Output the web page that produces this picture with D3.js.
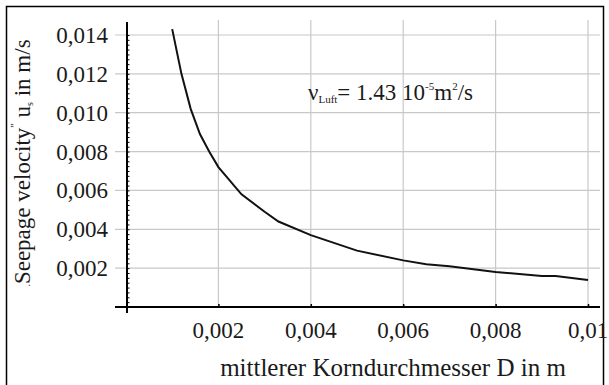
<!DOCTYPE html>
<html><head><meta charset="utf-8">
<script src="https://cdn.jsdelivr.net/npm/d3@7"></script>
<style>body{margin:0;background:#fff}svg{display:block}text{font-family:"Liberation Serif","DejaVu Serif",serif}</style>
</head><body>
<script>
const diameters = [0.001,0.0012,0.0014,0.0016,0.0018,0.002,0.0025,0.003,0.0033,0.004,0.005,0.006,0.0065,0.007,0.008,0.009,0.0093,0.01];
const velocities = [0.0143,0.0120,0.0102,0.0089,0.0080,0.0072,0.0058,0.0049,0.0044,0.0037,0.0029,0.0024,0.0022,0.0021,0.0018,0.0016,0.0016,0.00139];
const xTicks = [0.002,0.004,0.006,0.008,0.01];
const xTickLabels = ["0,002","0,004","0,006","0,008","0,01"];
const yTicks = [0.002,0.004,0.006,0.008,0.010,0.012,0.014];
const yTickLabels = ["0,002","0,004","0,006","0,008","0,010","0,012","0,014"];

const W=609,H=385;
const svg=d3.select("body").append("svg").attr("width",W).attr("height",H);
svg.append("rect").attr("x",6.5).attr("y",6.5).attr("width",597).attr("height",390)
  .attr("fill","none").attr("stroke","#000").attr("stroke-width",1.5);

const x=d3.scaleLinear().domain([0,0.01]).range([126,588]);
const y=d3.scaleLinear().domain([0,0.014]).range([307,35]);

// grid
svg.append("g").selectAll("line").data(yTicks).join("line")
  .attr("x1",115).attr("x2",600).attr("y1",d=>y(d)).attr("y2",d=>y(d))
  .attr("stroke","#c8c8c8").attr("stroke-width",1.2);
svg.append("g").selectAll("line").data(xTicks).join("line")
  .attr("x1",d=>x(d)).attr("x2",d=>x(d)).attr("y1",20).attr("y2",307)
  .attr("stroke","#c8c8c8").attr("stroke-width",1.2);

// y axis
const yAxis=d3.axisRight(y).tickValues(d3.range(0,0.01425,0.00025)).tickSize(2.5).tickFormat("");
const gy=svg.append("g").attr("transform","translate(127,0)").call(yAxis);
gy.select(".domain").remove();
gy.selectAll("line").attr("stroke","#000");
svg.append("line").attr("x1",127).attr("x2",127).attr("y1",22).attr("y2",313).attr("stroke","#000").attr("stroke-width",2);
svg.append("g").selectAll("text").data(yTicks).join("text")
  .attr("x",108).attr("y",d=>y(d)+8).attr("text-anchor","end")
  .attr("font-size",23).attr("fill","#1a1a1a")
  .text((d,i)=>yTickLabels[i]);

// x axis
svg.append("line").attr("x1",115).attr("x2",600).attr("y1",307).attr("y2",307).attr("stroke","#000").attr("stroke-width",2);
const xAxis=d3.axisBottom(x).tickValues(xTicks).tickSize(2).tickFormat("");
const gx=svg.append("g").attr("transform","translate(0,306)").call(xAxis);
gx.select(".domain").remove();
gx.selectAll("line").attr("stroke","#000").attr("stroke-width",1.5).attr("y1",-2).attr("y2",2);
svg.append("g").selectAll("text").data(xTicks).join("text")
  .attr("x",d=>x(d)).attr("y",338).attr("text-anchor","middle")
  .attr("font-size",23).attr("fill","#1a1a1a")
  .text((d,i)=>xTickLabels[i]);

svg.append("text").attr("x",393).attr("y",376).attr("text-anchor","middle")
  .attr("font-size",25).attr("fill","#1a1a1a")
  .text("mittlerer Korndurchmesser D in m");

// y label
const yl=svg.append("text").attr("transform","translate(30,163) rotate(-90)").attr("text-anchor","middle")
  .attr("font-size",23).attr("fill","#1a1a1a");
yl.append("tspan").attr("font-size",10).text(".");
yl.append("tspan").text("Seepage velocity");
yl.append("tspan").attr("font-size",10).attr("dy",-12).text("\u201D");
yl.append("tspan").attr("dy",12).text(" u");
yl.append("tspan").attr("font-size",10).attr("dy",3).text("s");
yl.append("tspan").attr("dy",-3).text("  in m/s");

// curve
const line=d3.line().x((d,i)=>x(diameters[i])).y((d,i)=>y(velocities[i]));
svg.append("path").datum(velocities).attr("d",line).attr("fill","none")
  .attr("stroke","#111").attr("stroke-width",2);

// annotation
const an=svg.append("text").attr("x",308).attr("y",100)
  .attr("font-size",23).attr("fill","#1a1a1a");
an.append("tspan").text("\u03BD");
an.append("tspan").attr("font-size",11).attr("dy",3).text("Luft");
an.append("tspan").attr("dy",-3).text("= 1.43 10");
an.append("tspan").attr("font-size",11).attr("dy",-10).text("-5");
an.append("tspan").attr("dy",10).text("m");
an.append("tspan").attr("font-size",11).attr("dy",-10).text("2");
an.append("tspan").attr("dy",10).text("/s");
</script>
</body></html>
